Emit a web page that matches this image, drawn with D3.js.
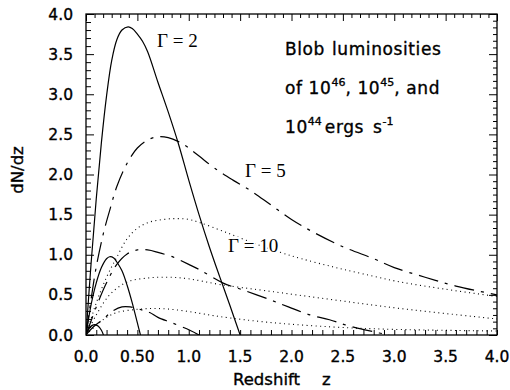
<!DOCTYPE html>
<html><head><meta charset="utf-8">
<script src="https://cdn.jsdelivr.net/npm/d3@7"></script>
<style>
html,body{margin:0;padding:0;background:#fff;}
svg text{fill:#000;}
</style></head>
<body><svg id="c" width="510" height="390"></svg>
<script>
// ---- data ----
const xTicks = [0, 0.5, 1.0, 1.5, 2.0, 2.5, 3.0, 3.5, 4.0];
const xTickLabels = ["0.0", "0.50", "1.0", "1.5", "2.0", "2.5", "3.0", "3.5", "4.0"];
const yTicks = [0, 0.5, 1.0, 1.5, 2.0, 2.5, 3.0, 3.5, 4.0];
const yTickLabels = ["0.0", "0.5", "1.0", "1.5", "2.0", "2.5", "3.0", "3.5", "4.0"];

// Gamma = 2 (solid)
const g2_46_z = [0, 0.05, 0.1, 0.15, 0.2, 0.25, 0.3, 0.35, 0.41, 0.45, 0.5, 0.55, 0.6, 0.7, 0.8, 0.9, 1.0, 1.1, 1.2, 1.3, 1.4, 1.5];
const g2_46_y = [0, 0.9, 1.7, 2.4, 2.98, 3.42, 3.68, 3.8, 3.84, 3.82, 3.75, 3.66, 3.53, 3.15, 2.78, 2.38, 1.93, 1.5, 1.1, 0.73, 0.37, 0];
const g2_45_z = [0, 0.05, 0.1, 0.15, 0.2, 0.23, 0.27, 0.3, 0.35, 0.4, 0.45, 0.5, 0.53];
const g2_45_y = [0, 0.38, 0.65, 0.84, 0.95, 0.975, 0.96, 0.91, 0.8, 0.62, 0.4, 0.15, 0];
const g2_44_z = [0, 0.03, 0.06, 0.09, 0.12, 0.15, 0.17];
const g2_44_y = [0, 0.08, 0.12, 0.13, 0.11, 0.06, 0];

// Gamma = 5 (dash-dot)
const g5_46_z = [0, 0.05, 0.1, 0.17, 0.23, 0.3, 0.4, 0.5, 0.6, 0.7, 0.8, 0.9, 1.0, 1.11, 1.25, 1.43, 1.6, 1.8, 2.0, 2.2, 2.5, 2.8, 3.0, 3.3, 3.6, 4.0];
const g5_46_y = [0, 0.45, 0.85, 1.27, 1.55, 1.85, 2.14, 2.33, 2.43, 2.47, 2.46, 2.41, 2.33, 2.22, 2.08, 1.93, 1.8, 1.62, 1.44, 1.29, 1.1, 0.95, 0.84, 0.72, 0.61, 0.5];
const g5_45_z = [0, 0.1, 0.2, 0.3, 0.4, 0.5, 0.6, 0.7, 0.85, 1.0, 1.11, 1.33, 1.53, 1.79, 1.97, 2.18, 2.37, 2.54, 2.8, 2.95];
const g5_45_y = [0, 0.35, 0.65, 0.88, 1.01, 1.06, 1.06, 1.03, 0.97, 0.88, 0.81, 0.65, 0.56, 0.44, 0.35, 0.25, 0.19, 0.12, 0.04, 0];
const g5_44_z = [0, 0.07, 0.17, 0.25, 0.35, 0.43, 0.55, 0.62, 0.7, 0.84, 1.01, 1.1];
const g5_44_y = [0, 0.1, 0.2, 0.29, 0.35, 0.35, 0.31, 0.28, 0.22, 0.15, 0.06, 0];

// Gamma = 10 (dotted)
const g10_46_z = [0, 0.1, 0.2, 0.3, 0.4, 0.5, 0.6, 0.7, 0.85, 1.0, 1.11, 1.34, 1.6, 1.89, 2.1, 2.4, 2.7, 3.06, 3.5, 4.0];
const g10_46_y = [0, 0.4, 0.72, 0.97, 1.2, 1.33, 1.4, 1.43, 1.45, 1.44, 1.4, 1.29, 1.16, 1.03, 0.95, 0.85, 0.76, 0.66, 0.57, 0.48];
const g10_45_z = [0, 0.1, 0.23, 0.4, 0.6, 0.8, 1.0, 1.3, 1.76, 2.4, 3.06, 4.0];
const g10_45_y = [0, 0.25, 0.5, 0.66, 0.71, 0.72, 0.70, 0.63, 0.55, 0.44, 0.33, 0.2];
const g10_44_z = [0, 0.1, 0.2, 0.3, 0.5, 0.7, 0.9, 1.11, 1.3, 1.76, 2.4, 3.0, 4.0];
const g10_44_y = [0, 0.12, 0.22, 0.28, 0.32, 0.33, 0.31, 0.27, 0.23, 0.16, 0.1, 0.07, 0.05];

const series = [
  {z: g2_46_z, y: g2_46_y, style: "solid"},
  {z: g2_45_z, y: g2_45_y, style: "solid"},
  {z: g2_44_z, y: g2_44_y, style: "solid"},
  {z: g5_46_z, y: g5_46_y, style: "dashdot"},
  {z: g5_45_z, y: g5_45_y, style: "dashdot"},
  {z: g5_44_z, y: g5_44_y, style: "dashdot"},
  {z: g10_46_z, y: g10_46_y, style: "dot"},
  {z: g10_45_z, y: g10_45_y, style: "dot"},
  {z: g10_44_z, y: g10_44_y, style: "dot"}
];

// ---- layout ----
const L = 86, R = 497, T = 14, B = 335;
const x = d3.scaleLinear().domain([0, 4]).range([L, R]);
const y = d3.scaleLinear().domain([0, 4]).range([B, T]);
const svg = d3.select("#c");
const sans = "'DejaVu Sans', sans-serif";
const serif = "'Liberation Serif', 'Times New Roman', serif";

svg.append("defs").append("clipPath").attr("id", "clip")
  .append("rect").attr("x", L).attr("y", T).attr("width", R - L).attr("height", B - T);

const dash = {solid: null, dashdot: "20,7,3,7", dot: "1,3.5"};
const line = d3.line().x(d => x(d[0])).y(d => y(d[1])).curve(d3.curveCatmullRom.alpha(0.5));
const g = svg.append("g").attr("clip-path", "url(#clip)");
series.forEach(s => {
  const pts = s.z.map((z, i) => [z, s.y[i]]);
  g.append("path").attr("d", line(pts)).attr("fill", "none")
    .attr("stroke", "#000").attr("stroke-width", s.style === "dot" ? 1.1 : 1.2)
    .attr("stroke-dasharray", dash[s.style]);
});

// frame
svg.append("rect").attr("x", L).attr("y", T).attr("width", R - L).attr("height", B - T)
  .attr("fill", "none").attr("stroke", "#000").attr("stroke-width", 1.3);

// ticks
const minorX = d3.range(0, 4.0001, 0.1);
const minorY = d3.range(0, 4.0001, 0.1);
const minorTop = d3.range(0, 4.0001, 0.5 / 6);
const minorRight = d3.range(0, 4.0001, 0.5 / 6);
const isMajor = v => Math.abs(v * 2 - Math.round(v * 2)) < 1e-6;

const bottomAxis = d3.axisBottom(x).tickValues(minorX).tickSize(-5).tickFormat("");
const gb = svg.append("g").attr("transform", `translate(0,${B})`).call(bottomAxis);
const leftAxis = d3.axisLeft(y).tickValues(minorY).tickFormat("").tickSize(-5);
const gl = svg.append("g").attr("transform", `translate(${L},0)`).call(leftAxis);
gl.selectAll(".tick line").attr("x2", d => isMajor(d) ? 8 : 5);
const topAxis = d3.axisTop(x).tickValues(minorTop).tickFormat("").tickSize(-4);
const gt = svg.append("g").attr("transform", `translate(0,${T})`).call(topAxis);
gt.selectAll(".tick line").attr("y2", d => isMajor(d) ? 7 : 4);
const rightAxis = d3.axisRight(y).tickValues(minorRight).tickFormat("").tickSize(-4);
const gr = svg.append("g").attr("transform", `translate(${R},0)`).call(rightAxis);
gr.selectAll(".tick line").attr("x2", d => isMajor(d) ? -8 : -4);
[gb, gl, gt, gr].forEach(a => { a.select(".domain").remove(); a.selectAll(".tick line").attr("stroke", "#000").attr("stroke-width", 1); });

// tick labels
const tl = {"font-family": sans, "font-size": 15.5, "stroke": "#000", "stroke-width": 0.35};
const xl = svg.append("g").selectAll("text").data(xTicks).join("text")
  .attr("x", d => x(d)).attr("y", 362).attr("text-anchor", "middle")
  .text((d, i) => xTickLabels[i]);
const yl = svg.append("g").selectAll("text").data(yTicks).join("text")
  .attr("x", 73).attr("y", d => y(d) + 5.5).attr("text-anchor", "end")
  .text((d, i) => yTickLabels[i]);
[xl, yl].forEach(s => Object.entries(tl).forEach(([k, v]) => s.attr(k, v)));

// axis titles
const xt = svg.append("text").attr("x", 233).attr("y", 385).attr("font-family", sans).attr("font-size", 16.5)
  .attr("stroke", "#000").attr("stroke-width", 0.35);
xt.append("tspan").text("Redshift");
xt.append("tspan").attr("dx", 22).text("z");
svg.append("text").attr("transform", "translate(23,170) rotate(-90)").attr("text-anchor", "middle")
  .attr("font-family", sans).attr("font-size", 16.5).attr("stroke", "#000").attr("stroke-width", 0.35).text("dN/dz");

// annotation
const ann = svg.append("g").attr("font-family", sans).attr("font-size", 17)
  .attr("stroke", "#000").attr("stroke-width", 0.35);
const t1 = ann.append("text").attr("x", 285).attr("y", 55).attr("letter-spacing", 0.6);
t1.append("tspan").text("Blob");
t1.append("tspan").attr("dx", 7).text("luminosities");
const t2 = ann.append("text").attr("x", 285).attr("y", 94).attr("letter-spacing", 0.6);
t2.append("tspan").text("of 10");
t2.append("tspan").attr("dy", -8).attr("font-size", 11).attr("letter-spacing", 0).text("46");
t2.append("tspan").attr("dy", 8).text(", 10");
t2.append("tspan").attr("dy", -8).attr("font-size", 11).attr("letter-spacing", 0).text("45");
t2.append("tspan").attr("dy", 8).text(", and");
const t3 = ann.append("text").attr("x", 285).attr("y", 133).attr("letter-spacing", 0.6);
t3.append("tspan").text("10");
t3.append("tspan").attr("dy", -8).attr("font-size", 11).attr("letter-spacing", 0).text("44");
t3.append("tspan").attr("dy", 8).attr("dx", 3).text("ergs");
t3.append("tspan").attr("dx", 9).text("s");
t3.append("tspan").attr("dy", -8).attr("font-size", 11).attr("letter-spacing", 0).text("-1");

// Gamma labels (white halo hides curves behind them)
const gam = svg.append("g").attr("font-family", serif).attr("font-size", 19)
  .attr("stroke", "#fff").attr("stroke-width", 4).attr("paint-order", "stroke");
gam.append("text").attr("x", 157).attr("y", 47).text("Γ = 2");
gam.append("text").attr("x", 245).attr("y", 177).text("Γ = 5");
gam.append("text").attr("x", 228).attr("y", 252).text("Γ = 10");
</script></body></html>
